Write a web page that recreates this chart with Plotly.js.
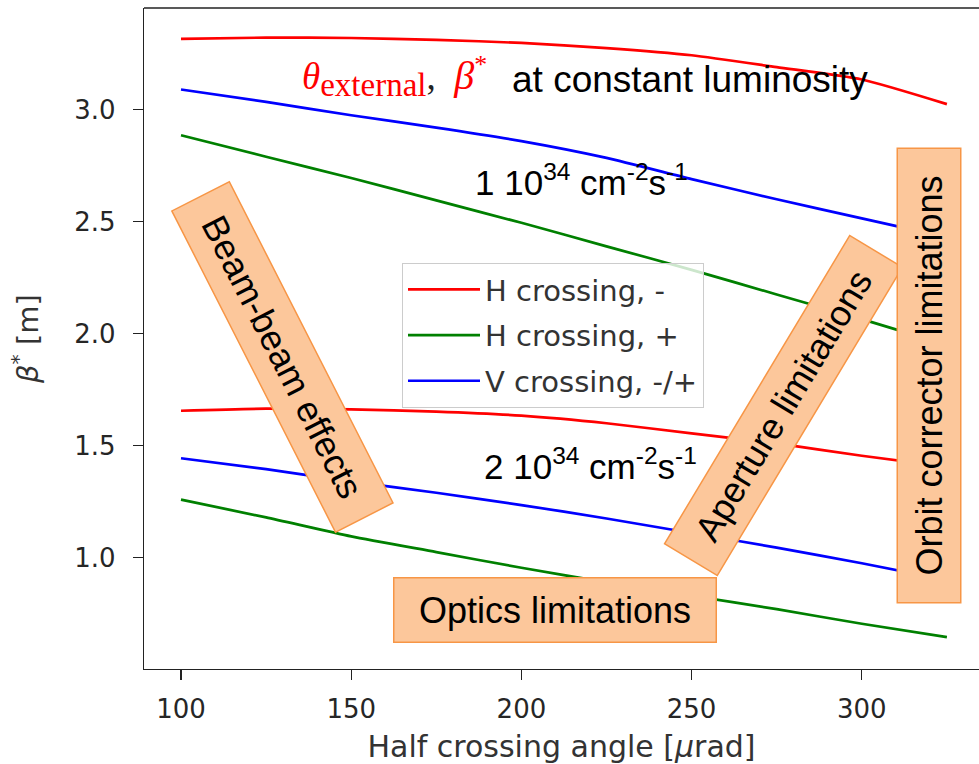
<!DOCTYPE html>
<html><head><meta charset="utf-8">
<script src="https://cdn.plot.ly/plotly-3.0.1.min.js"></script>
<style>html,body{margin:0;padding:0;background:#fff;overflow:hidden}</style>
</head><body>
<div id="chart" style="width:979px;height:764px"></div>
<script>
// ---- data ----
const angle = [100, 125, 150, 175, 200, 225, 250, 275, 300, 325];
// 1e34 cm^-2 s^-1
const hMinus1e34 = [3.316, 3.322, 3.320, 3.312, 3.298, 3.275, 3.243, 3.190, 3.135, 3.025];
const hPlus1e34  = [2.886, 2.790, 2.695, 2.595, 2.495, 2.390, 2.285, 2.175, 2.065, 1.950];
const vMP1e34    = [3.090, 3.035, 2.975, 2.920, 2.860, 2.785, 2.690, 2.600, 2.515, 2.430];
// 2e34 cm^-2 s^-1
const hMinus2e34 = [1.656, 1.665, 1.662, 1.652, 1.634, 1.600, 1.555, 1.510, 1.455, 1.405];
const hPlus2e34  = [1.259, 1.180, 1.095, 1.025, 0.955, 0.890, 0.830, 0.770, 0.705, 0.645];
const vMP2e34    = [1.444, 1.395, 1.340, 1.290, 1.235, 1.175, 1.110, 1.045, 0.975, 0.900];
const seriesNames = ['H crossing, -', 'H crossing, +', 'V crossing, -/+'];
const xTicks = [100, 150, 200, 250, 300];
const yTicks = [1.0, 1.5, 2.0, 2.5, 3.0];

// ---- layout geometry ----
const W = 979, H = 764, M = {l: 144, r: 0, t: 8, b: 95};
const xr = [89.13, 334.43], yr = [0.503, 3.454];
const px2x = px => xr[0] + (px - M.l) / (W - M.l - M.r) * (xr[1] - xr[0]);
const py2y = py => yr[1] - (py - M.t) / (H - M.t - M.b) * (yr[1] - yr[0]);
const px2paper = px => (px - M.l) / (W - M.l - M.r);
const py2paper = py => 1 - (py - M.t) / (H - M.t - M.b);

const colors = ['#ff0000', '#008000', '#0000ff'];
function line(y, i, show) {
  return {x: angle, y: y, type: 'scatter', mode: 'lines', name: seriesNames[i],
    legendgroup: 'g' + i, showlegend: show,
    line: {color: colors[i], width: 2.7, shape: 'spline', smoothing: 0.6}, hoverinfo: 'x+y+name'};
}
const traces = [
  line(hMinus1e34, 0, true), line(hPlus1e34, 1, true), line(vMP1e34, 2, true),
  line(hMinus2e34, 0, false), line(hPlus2e34, 1, false), line(vMP2e34, 2, false)
];

const sans = 'Liberation Sans, Arial, sans-serif';
function box(text, cx, cy, w, h, ang) {
  return {text: text, x: px2x(cx), y: py2y(cy), xref: 'x', yref: 'y', showarrow: false,
    textangle: ang, width: w - 3, height: h - 3, borderpad: 0, borderwidth: 1.5,
    bgcolor: '#fcc79b', bordercolor: '#f79646', xanchor: 'center', yanchor: 'middle',
    font: {family: sans, size: 36, color: '#000'}};
}

const annotations = [
  {text: '<i>θ</i><sub><span style="font-size:33px">external</span></sub><span style="color:#222">,</span>\u00a0 <i><span style="font-size:40px">β</span></i><sup>*</sup>',
   x: px2x(300), y: py2y(76), xref: 'x', yref: 'y', xanchor: 'left', yanchor: 'middle', showarrow: false,
   font: {family: 'Liberation Serif, serif', size: 37, color: '#ff0000'}},
  {text: 'at constant luminosity', x: px2x(690), y: py2y(79), xref: 'x', yref: 'y',
   xanchor: 'center', yanchor: 'middle', showarrow: false, font: {family: sans, size: 37, color: '#000'}},
  {text: '1 10<sup>34</sup> cm<sup>-2</sup>s<sup>-1</sup>', x: px2x(581), y: py2y(180), xref: 'x', yref: 'y',
   xanchor: 'center', yanchor: 'middle', showarrow: false, font: {family: sans, size: 35, color: '#000'}},
  {text: '2 10<sup>34</sup> cm<sup>-2</sup>s<sup>-1</sup>', x: px2x(590), y: py2y(464), xref: 'x', yref: 'y',
   xanchor: 'center', yanchor: 'middle', showarrow: false, font: {family: sans, size: 35, color: '#000'}},
  box('Beam-beam effects', 282.75, 356.5, 362, 66, 63),
  box('Optics limitations', 555, 610, 324, 66, 0),
  box('Aperture limitations', 783.5, 405.5, 361, 63, -59),
  box('Orbit corrector limitations', 928.5, 376, 456, 65, -90)
];

const axisCommon = {showline: true, linecolor: '#222', linewidth: 1.3, ticks: 'outside', ticklen: 10,
  tickwidth: 1.3, tickcolor: '#222', showgrid: false, zeroline: false,
  tickfont: {family: 'DejaVu Sans, sans-serif', size: 26, color: '#262626'}};

const layout = {
  width: W, height: H, margin: M, paper_bgcolor: '#fff', plot_bgcolor: '#fff',
  showlegend: true,
  xaxis: Object.assign({}, axisCommon, {range: xr, tickvals: xTicks, ticklabelstandoff: 6,
    title: {text: 'Half crossing angle [<i>μ</i>rad]', standoff: 15,
      font: {family: 'DejaVu Sans, sans-serif', size: 30, color: '#333'}}}),
  yaxis: Object.assign({}, axisCommon, {range: yr, tickvals: yTicks, tickformat: '.1f', ticklabelstandoff: 12,
    title: {text: '<i>β</i><sup>*</sup> [m]', standoff: 27,
      font: {family: 'DejaVu Sans, sans-serif', size: 29, color: '#333'}}}),
  legend: {x: px2paper(402), y: py2paper(263), xanchor: 'left', yanchor: 'top',
    bgcolor: 'rgba(255,255,255,0.8)', bordercolor: '#cccccc', borderwidth: 1,
    font: {family: 'DejaVu Sans, sans-serif', size: 29, color: '#333'},
    tracegroupgap: 5, traceorder: 'grouped', itemwidth: 72},
  shapes: [{type: 'line', xref: 'paper', yref: 'paper', x0: 0, x1: 1, y0: 1, y1: 1,
    line: {color: '#222', width: 1.3}}],
  annotations: annotations
};

Plotly.newPlot('chart', traces, layout, {displayModeBar: false, staticPlot: true});
</script>
</body></html>
